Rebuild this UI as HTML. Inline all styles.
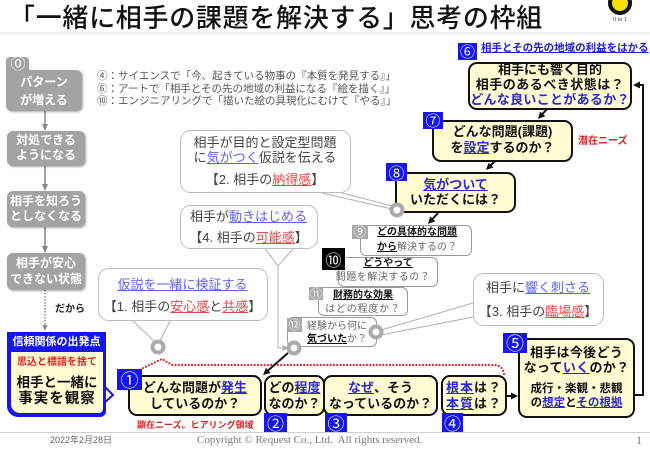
<!DOCTYPE html>
<html><head><meta charset="utf-8">
<style>
*{margin:0;padding:0;box-sizing:border-box}
html,body{width:650px;height:451px;background:#fff;overflow:hidden}
body{font-family:"Liberation Sans","Noto Sans CJK JP",sans-serif}
#c{position:relative;width:650px;height:451px;overflow:hidden}
.a{position:absolute}
.ln{position:absolute;white-space:nowrap;text-align:center;font-weight:bold;font-size:13px;line-height:16px;color:#111}
.bx{position:absolute;border:2.5px solid #111;border-radius:9px;background:#fffbd2}
.lb{position:absolute;background:#1515ee;color:#fff;font-size:17px;line-height:1;display:flex;align-items:center;justify-content:center;font-family:"Noto Sans CJK JP","DejaVu Sans",sans-serif}
.gl{position:absolute;background:#aaa;color:#fff;font-size:12px;line-height:1;display:flex;align-items:center;justify-content:center;font-family:"Noto Sans CJK JP","DejaVu Sans",sans-serif}
.gb{position:absolute;background:#a3a3a3;border-radius:6px;box-shadow:1px 1px 2px rgba(0,0,0,.35)}
.gt{position:absolute;white-space:nowrap;text-align:center;color:#fff;font-weight:bold;font-size:12px;line-height:15px}
.sb{position:absolute;border:1px solid #9a9a9a;border-radius:6px;background:#fff}
.st{position:absolute;white-space:nowrap;font-size:10px;line-height:13px;color:#666}
.st b{color:#111;text-decoration:underline}
.bt{position:absolute;white-space:nowrap;text-align:center;font-size:13px;line-height:16px;color:#444}
.ub{color:#2a2ad0;text-decoration:underline}
.lbu{color:#6262f0;text-decoration:underline}
.lr{color:#e24a4a;text-decoration:underline}
</style></head><body><div id="c">

<svg class="a" style="left:0;top:0" width="650" height="451">
  <line x1="0" y1="33" x2="650" y2="33" stroke="#e2e2e2" stroke-width="1"/>
  <line x1="0" y1="432.5" x2="650" y2="432.5" stroke="#d0d0d0" stroke-width="1"/>
  <circle cx="620" cy="3" r="10" fill="#f3e000" stroke="#111" stroke-width="4"/>
  <text x="620" y="21" font-family="Liberation Serif,serif" font-size="6" text-anchor="middle" fill="#333">0 to 1</text>

  <g stroke="#888" stroke-width="1.5" fill="none">
    <line x1="45" y1="111" x2="45" y2="125"/>
    <line x1="45" y1="166" x2="45" y2="186"/>
    <line x1="45" y1="227" x2="45" y2="248"/>
    <line x1="45" y1="290" x2="45" y2="325" stroke-dasharray="1.5 1.5"/>
  </g>
  <g fill="#888">
    <polygon points="45,131 42,124 48,124"/>
    <polygon points="45,191 42,184 48,184"/>
    <polygon points="45,253 42,246 48,246"/>
    <polygon points="45,331 42.5,325 47.5,325"/>
  </g>

  <g stroke="#bdbdbd" stroke-width="1" fill="#fff">
    <rect x="180.5" y="130.5" width="170" height="62" rx="10"/>
    <rect x="180.5" y="205.5" width="137" height="43" rx="10"/>
    <rect x="98.5" y="268.5" width="169" height="52" rx="10"/>
    <rect x="473.5" y="273.5" width="130" height="52" rx="10"/>
  </g>
  <g stroke="#b0b0b0" stroke-width="1" fill="none">
    <line x1="322" y1="193" x2="392" y2="209"/>
    <line x1="342" y1="193" x2="392" y2="206"/>
    <polyline points="265,249 278,266 293,249"/>
    <polyline points="278,266 278,348 283,348"/>
    <line x1="133" y1="321" x2="155" y2="342"/>
    <line x1="170" y1="321" x2="160" y2="341"/>
    <line x1="473" y1="303" x2="381" y2="330"/>
    <line x1="473" y1="317" x2="381" y2="335"/>
    <line x1="295" y1="332" x2="295" y2="342"/>
  </g>
  <polygon points="288,348 282.5,345 282.5,351" fill="#aaa"/>

  <path d="M137,371 L162,359 L172,365 L495,365 Q503,366 504,374" fill="none" stroke="#e02020" stroke-width="2.2" stroke-linecap="round" stroke-dasharray="0 3.3"/>

  <path d="M634,395 H643 V85 H639" fill="none" stroke="#111" stroke-width="2"/>
  <polygon points="633,85 640,81.5 640,88.5" fill="#111"/>
  <line x1="506" y1="396" x2="512" y2="396" stroke="#111" stroke-width="2"/>
  <polygon points="518,396 511,392.5 511,399.5" fill="#111"/>

  <polygon points="102,384 113,395 102,405" fill="#fffbd2" stroke="#1515ee" stroke-width="2"/>
</svg>

<div class="a" style="left:9px;top:2px;font-size:26px;line-height:30px;letter-spacing:0.7px;white-space:nowrap;color:#111;font-family:'Noto Sans CJK JP',sans-serif;font-weight:500">「一緒に相手の課題を解決する」思考の枠組</div>

<div class="a" style="left:97px;top:70px;font-size:10.5px;line-height:12.5px;color:#555;white-space:nowrap">④：サイエンスで「今、起きている物事の『本質を発見する』」<br>⑥：アートで「相手とその先の地域の利益になる『絵を描く』」<br>⑩：エンジニアリングで「描いた絵の具現化にむけて『やる』」</div>

<div class="gb" style="left:6px;top:57px;width:23px;height:18px;border-radius:4px 4px 0 0;box-shadow:none"></div>
<div class="gb" style="left:6px;top:70px;width:76px;height:41px;border-radius:0 6px 6px 6px"></div>
<div class="a" style="left:8px;top:56px;width:20px;text-align:center;color:#fff;font-size:15px;line-height:17px;font-family:'DejaVu Sans','Noto Sans CJK JP',sans-serif">⓪</div>
<div class="gt" style="left:6px;width:76px;top:75px">パターン</div>
<div class="gt" style="left:6px;width:76px;top:93px">が増える</div>

<div class="gb" style="left:7px;top:131px;width:78px;height:35px"></div>
<div class="gt" style="left:7px;width:78px;top:133px">対処できる</div>
<div class="gt" style="left:7px;width:78px;top:148px">ようになる</div>

<div class="gb" style="left:7px;top:191px;width:78px;height:36px"></div>
<div class="gt" style="left:7px;width:78px;top:194px">相手を知ろう</div>
<div class="gt" style="left:7px;width:78px;top:209px">としなくなる</div>

<div class="gb" style="left:7px;top:253px;width:78px;height:37px"></div>
<div class="gt" style="left:7px;width:78px;top:256px">相手が安心</div>
<div class="gt" style="left:7px;width:78px;top:272px">できない状態</div>

<div class="a" style="left:55px;top:304px;font-size:10px;line-height:12px;font-weight:bold;color:#222">だから</div>

<div class="a" style="left:7px;top:332px;width:99px;height:85px;background:#1515ee;border-radius:0 0 6px 11px"></div>
<div class="a" style="left:7px;top:334px;width:99px;text-align:center;color:#fff;font-weight:bold;font-size:11px;line-height:16px;white-space:nowrap">信頼関係の出発点</div>
<div class="a" style="left:11px;top:352px;width:92px;height:61px;background:#fffbd2;border-radius:0 0 4px 9px"></div>
<div class="a" style="left:11px;top:357px;width:92px;text-align:center;color:#e02020;font-weight:bold;font-size:10px;line-height:12px;white-space:nowrap">思込と標語を捨て</div>
<div class="a" style="left:11px;top:374px;width:92px;text-align:center;color:#111;font-weight:bold;font-size:13.5px;line-height:17px;white-space:nowrap">相手と一緒に</div>
<div class="a" style="left:11px;top:391px;width:92px;text-align:center;color:#111;font-weight:bold;font-size:14.5px;line-height:17px;letter-spacing:1px;white-space:nowrap">事実を観察</div>

<div class="bt" style="left:180px;width:170px;top:135px">相手が目的と設定型問題</div>
<div class="bt" style="left:180px;width:170px;top:150px">に<span class="lbu">気がつく</span>仮説を伝える</div>
<div class="bt" style="left:180px;width:170px;top:172px">【2. 相手の<span class="lr">納得感</span>】</div>

<div class="bt" style="left:180px;width:137px;top:209px">相手が<span class="lbu">動きはじめる</span></div>
<div class="bt" style="left:180px;width:137px;top:230px">【4. 相手の<span class="lr">可能感</span>】</div>

<div class="bt" style="left:98px;width:169px;top:277px"><span class="lbu">仮説を一緒に検証する</span></div>
<div class="bt" style="left:98px;width:169px;top:299px">【1. 相手の<span class="lr">安心感</span>と<span class="lr">共感</span>】</div>

<div class="bt" style="left:473px;width:130px;top:280px">相手に<span class="lbu">響く刺さる</span></div>
<div class="bt" style="left:473px;width:130px;top:304px">【3. 相手の<span class="lr">臨場感</span>】</div>

<div class="sb" style="left:360px;top:225px;width:112px;height:31px"></div>
<div class="st" style="left:377px;top:226px"><b>どの具体的な問題</b></div>
<div class="st" style="left:377px;top:241px"><b>から</b>解決するの？</div>
<div class="gl" style="left:352px;top:225px;width:16px;height:14px">⑨</div>

<div class="sb" style="left:338px;top:257px;width:100px;height:30px"></div>
<div class="st" style="left:338px;width:100px;text-align:center;top:257px"><b>どうやって</b></div>
<div class="st" style="left:333px;width:100px;text-align:center;top:271px;letter-spacing:.5px">問題を解決するの？</div>
<div class="gl" style="left:322px;top:248px;width:23px;height:22px;background:#000;font-size:16px">⑩</div>

<div class="sb" style="left:318px;top:287px;width:90px;height:29px"></div>
<div class="st" style="left:318px;width:90px;text-align:center;top:289px"><b>財務的な効果</b></div>
<div class="st" style="left:318px;width:90px;text-align:center;top:303px;letter-spacing:.8px">はどの程度か？</div>
<div class="gl" style="left:309px;top:287px;width:14px;height:13px">⑪</div>

<div class="sb" style="left:287px;top:317px;width:90px;height:30px"></div>
<div class="st" style="left:307px;top:320px">経験から何に</div>
<div class="st" style="left:307px;top:333px"><b>気づいた</b>か？</div>
<div class="gl" style="left:287px;top:318px;width:15px;height:14px">⑫</div>

<div class="bx" style="left:468px;top:62px;width:164px;height:48px"></div>
<div class="ln" style="left:468px;width:164px;top:62px;line-height:15px">相手にも響く目的</div>
<div class="ln" style="left:468px;width:164px;top:77px;line-height:15px;letter-spacing:.5px">相手のあるべき状態は？</div>
<div class="ln" style="left:468px;width:164px;top:92px;line-height:15px;letter-spacing:.3px;color:#2a2ad0">どんな良いことがあるか？</div>
<div class="lb" style="left:458px;top:43px;width:19px;height:17px;font-size:15px">⑥</div>
<div class="a" style="left:481px;top:42px;font-size:10.5px;line-height:13px;font-weight:bold;color:#2020d0;text-decoration:underline;white-space:nowrap">相手とその先の地域の利益をはかる</div>

<div class="bx" style="left:432px;top:120px;width:141px;height:42px"></div>
<div class="ln" style="left:432px;width:141px;top:124px">どんな問題(課題)</div>
<div class="ln" style="left:432px;width:141px;top:140px">を<span class="ub">設定</span>するのか？</div>
<div class="lb" style="left:423px;top:112px;width:20px;height:17px;font-size:15px">⑦</div>
<div class="a" style="left:578px;top:136px;font-size:10px;line-height:12px;font-weight:bold;color:#e02020;white-space:nowrap">潜在ニーズ</div>

<div class="bx" style="left:395px;top:172px;width:121px;height:41px"></div>
<div class="ln" style="left:395px;width:121px;top:177px"><span class="ub">気がついて</span></div>
<div class="ln" style="left:395px;width:121px;top:192px">いただくには？</div>
<div class="lb" style="left:386px;top:163px;width:21px;height:18px;font-size:16px">⑧</div>

<div class="bx" style="left:128px;top:375px;width:134px;height:41px"></div>
<div class="ln" style="left:128px;width:134px;top:380px">どんな問題が<span class="ub">発生</span></div>
<div class="ln" style="left:128px;width:134px;top:396px">しているのか？</div>
<div class="lb" style="left:117px;top:369px;width:25px;height:21px;font-size:18px">①</div>

<div class="bx" style="left:264px;top:375px;width:61px;height:41px"></div>
<div class="ln" style="left:264px;width:61px;top:380px">どの<span class="ub">程度</span></div>
<div class="ln" style="left:264px;width:61px;top:396px">なのか？</div>
<div class="lb" style="left:264px;top:413px;width:23px;height:19px">②</div>

<div class="bx" style="left:323px;top:375px;width:115px;height:41px"></div>
<div class="ln" style="left:323px;width:115px;top:380px"><span class="ub">なぜ</span>、そう</div>
<div class="ln" style="left:323px;width:115px;top:396px">なっているのか？</div>
<div class="lb" style="left:325px;top:413px;width:22px;height:19px">③</div>

<div class="bx" style="left:441px;top:375px;width:66px;height:41px"></div>
<div class="ln" style="left:446px;top:380px;text-align:left;letter-spacing:1px"><span class="ub">根本</span>は？</div>
<div class="ln" style="left:446px;top:396px;text-align:left;letter-spacing:1px"><span class="ub">本質</span>は？</div>
<div class="lb" style="left:442px;top:413px;width:21px;height:19px">④</div>

<div class="bx" style="left:518px;top:338px;width:117px;height:80px"></div>
<div class="ln" style="left:518px;width:117px;top:345px;letter-spacing:.3px">相手は今後どう</div>
<div class="ln" style="left:518px;width:117px;top:360px;letter-spacing:.3px">なって<span class="ub">いく</span>のか？</div>
<div class="ln" style="left:518px;width:117px;top:382px;font-size:11.5px;line-height:14px">成行・楽観・悲観</div>
<div class="ln" style="left:518px;width:117px;top:396px;font-size:11.5px;line-height:14px">の<span class="ub">想定</span>と<span class="ub">その根拠</span></div>
<div class="lb" style="left:503px;top:333px;width:24px;height:20px;font-size:18px">⑤</div>

<div class="a" style="left:137px;top:420px;font-size:9px;line-height:11px;font-weight:bold;color:#e02020;white-space:nowrap">顕在ニーズ。ヒアリング領域</div>

<svg class="a" style="left:0;top:0" width="650" height="451">
  <g fill="#111" stroke="#111">
    <line x1="547" y1="109" x2="542" y2="114.5" stroke-width="2"/>
    <polygon points="538,119 545.3,116.1 540.1,111.5" stroke="none"/>
    <line x1="495" y1="161" x2="490.5" y2="165.5" stroke-width="2"/>
    <polygon points="486,170 493.4,167.5 488.5,162.6" stroke="none"/>
    <line x1="438" y1="213" x2="432.5" y2="219" stroke-width="2"/>
    <polygon points="428,224 435.3,221.2 430.1,216.5" stroke="none"/>
    <line x1="288" y1="353" x2="268" y2="370.5" stroke-width="2"/>
    <polygon points="263,375 270.6,373 265.9,367.8" stroke="none"/>
  </g>
  <g fill="#fff" stroke="#aaa" stroke-width="4">
    <circle cx="397" cy="210" r="5.5"/>
    <circle cx="376" cy="332" r="5.5"/>
    <circle cx="294" cy="348" r="5.5"/>
    <circle cx="158" cy="347" r="5.5"/>
  </g>
</svg>

<div class="a" style="left:50px;top:434px;font-size:9px;line-height:12px;color:#666;white-space:nowrap">2022年2月28日</div>
<div class="a" style="left:197px;top:433px;font-size:11px;line-height:14px;color:#777;white-space:pre;font-family:'Liberation Serif',serif">Copyright © Request Co., Ltd.  All rights reserved.</div>
<div class="a" style="left:636px;top:433px;font-size:12px;line-height:14px;color:#777;font-family:'Liberation Serif',serif">1</div>

</div></body></html>
